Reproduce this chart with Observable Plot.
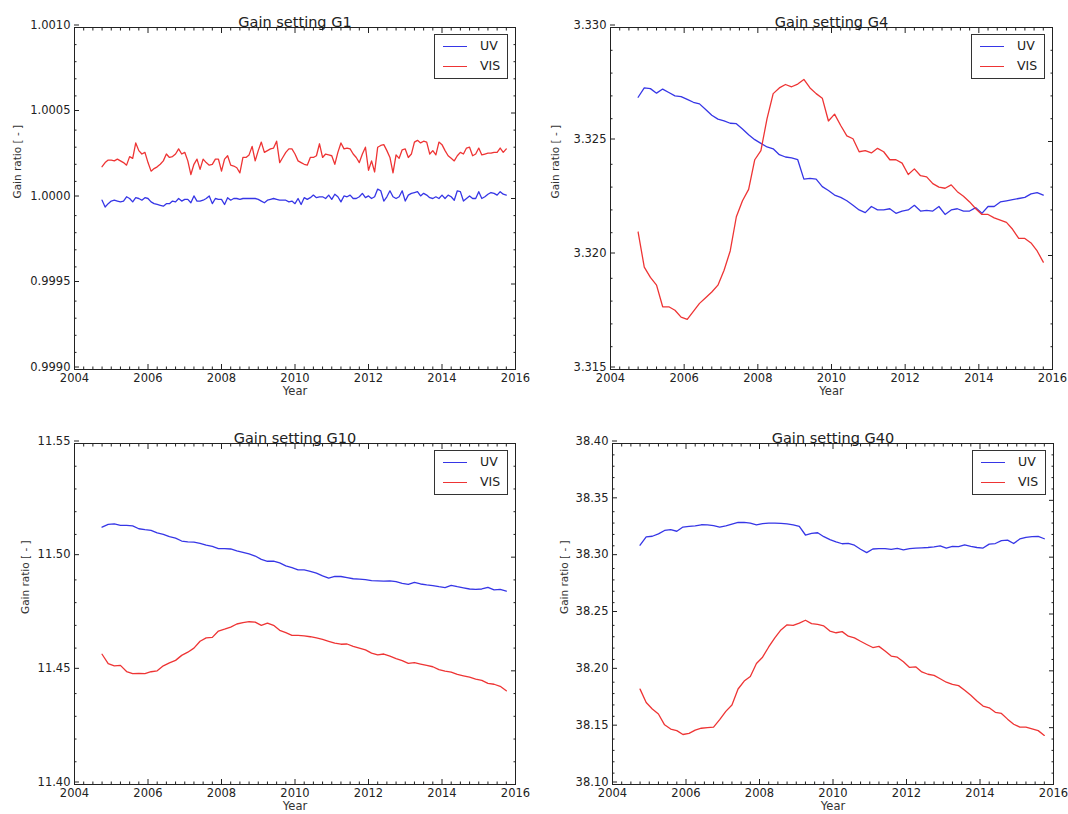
<!DOCTYPE html>
<html><head><meta charset="utf-8">
<script src="https://cdn.jsdelivr.net/npm/d3@7"></script>
<script src="https://cdn.jsdelivr.net/npm/@observablehq/plot@0.6"></script>
<style>
html,body{margin:0;padding:0;background:#fff;}
#root{position:relative;width:1068px;height:814px;overflow:hidden;font-family:"DejaVu Sans",sans-serif;color:#222;}
#root svg{position:absolute;overflow:visible;}
.legend{position:absolute;width:72px;height:43px;border:1px solid #333;background:#fff;}
.legend .sw{position:absolute;left:8px;width:24px;height:0;}
.legend .lab{position:absolute;left:45px;font-size:12.5px;line-height:16px;height:16px;color:#222;}
</style>
</head><body><div id="root"></div>
<script>
// ---------- data ----------
const seriesNames = ["UV", "VIS"];
const seriesColors = ["#3636e6", "#ee3434"];
const xTicks = [2004, 2006, 2008, 2010, 2012, 2014, 2016];
const startYear = 2004.75;      // first sample
const g1Step = 1 / 12;          // G1 sampled monthly
const step = 1 / 6;             // other panels, every two months

const g1Ticks = [0.9990, 0.9995, 1.0000, 1.0005, 1.0010];
const g4Ticks = [3.315, 3.320, 3.325, 3.330];
const g10Ticks = [11.40, 11.45, 11.50, 11.55];
const g40Ticks = [38.10, 38.15, 38.20, 38.25, 38.30, 38.35, 38.40];

const g1UV = [0.99999,0.99995,0.99997,0.999985,0.99999,0.999985,0.99998,0.999985,1.00001,1.0,
0.99998,1.000005,1.0,0.99999,1.000005,1.0,0.99998,0.99997,0.999965,0.99996,
0.999955,0.99997,0.99997,0.999985,0.99998,1.0,0.999985,0.999995,0.999995,0.999975,
1.000015,0.999985,0.999985,0.99999,1.0,1.000015,0.99997,1.0,0.999995,0.999995,
0.999965,1.000005,0.99999,1.0,1.0,0.999995,1.0,1.0,1.0,1.0,
1.0,0.999995,0.999985,0.999975,0.99999,0.999995,1.0,0.999995,0.99999,0.99999,
0.99999,0.99998,0.999985,0.99997,1.0,0.999965,1.000005,0.999995,1.000005,1.00002,
1.000005,1.00001,1.00001,1.0,1.00002,0.999995,1.000025,1.00001,0.99998,1.000015,
1.00001,1.00002,1.0,1.0,1.00001,1.00003,1.000005,1.000015,1.0,1.00001,
1.000055,1.000045,0.999985,1.00001,1.000045,1.00001,1.0,1.00001,1.000045,0.999985,
1.00002,1.00003,1.000035,1.00004,1.000015,1.00003,1.00002,1.000005,1.0,1.00001,
1.0,1.00002,1.0,1.00002,1.00001,0.99999,1.000045,1.00004,0.999985,1.0,
1.000015,1.0,1.0,1.00004,1.0,1.00001,1.000025,1.000035,1.00003,1.00002,
1.00004,1.000025,1.00002];
const g1VIS = [1.000186,1.00021,1.000225,1.000225,1.00022,1.00023,1.00022,1.00021,1.000195,1.000245,
1.000235,1.000325,1.00028,1.00026,1.00027,1.00021,1.00016,1.000175,1.000185,1.0002,
1.00022,1.00026,1.00024,1.000245,1.00026,1.00029,1.00026,1.00027,1.00022,1.00014,
1.0002,1.00023,1.00017,1.00023,1.00021,1.000195,1.0002,1.00023,1.00023,1.00016,
1.00023,1.00025,1.000195,1.00019,1.00018,1.00015,1.00024,1.00024,1.000255,1.000305,
1.00022,1.00028,1.00033,1.00027,1.00028,1.00029,1.000295,1.000335,1.00021,1.00024,
1.00027,1.00029,1.00029,1.00026,1.00022,1.00021,1.0002,1.000195,1.00024,1.00024,
1.00025,1.00032,1.00024,1.00026,1.000255,1.00025,1.0002,1.00027,1.000325,1.00029,
1.000295,1.00029,1.00026,1.00024,1.00021,1.00026,1.0003,1.000165,1.00022,1.000155,
1.0003,1.00031,1.000315,1.00028,1.00024,1.00015,1.000255,1.000235,1.000285,1.00029,
1.00024,1.00026,1.00033,1.00034,1.000325,1.000335,1.00033,1.00026,1.00028,1.000255,
1.00033,1.000315,1.00028,1.00025,1.000235,1.00022,1.00025,1.00027,1.00026,1.000295,
1.0003,1.00025,1.00026,1.000295,1.000255,1.00026,1.000265,1.000265,1.00027,1.00027,
1.000295,1.00027,1.00029];

const g4UV = [3.32694,3.32735,3.32732,3.32712,3.32730,3.32715,3.32700,3.32697,3.32685,3.32672,
3.32665,3.32640,3.32615,3.32598,3.32590,3.32580,3.32578,3.32555,3.32530,3.32508,
3.32492,3.32476,3.32468,3.32442,3.32432,3.32428,3.32420,3.32335,3.32338,3.32335,
3.32302,3.32285,3.32265,3.32255,3.32240,3.32220,3.32200,3.32188,3.32215,3.32200,
3.32200,3.32205,3.32185,3.32195,3.32200,3.32220,3.32195,3.32198,3.32195,3.32215,
3.32180,3.32200,3.32205,3.32195,3.32195,3.32210,3.32185,3.32215,3.32215,3.32235,
3.32240,3.32245,3.32250,3.32255,3.32270,3.32276,3.32265];
const g4VIS = [3.32103,3.31949,3.31904,3.31870,3.31775,3.31775,3.31760,3.31730,3.31720,3.31755,
3.31790,3.31815,3.31840,3.31870,3.31935,3.32020,3.32170,3.32240,3.32290,3.32420,
3.32460,3.32600,3.32710,3.32735,3.32750,3.32740,3.32752,3.32772,3.32735,3.32710,
3.32690,3.32590,3.32620,3.32570,3.32525,3.32512,3.32455,3.32460,3.32450,3.32470,
3.32455,3.32420,3.32420,3.32405,3.32355,3.32380,3.32350,3.32345,3.32315,3.32300,
3.32295,3.32310,3.32280,3.32260,3.32235,3.32205,3.32180,3.32180,3.32165,3.32155,
3.32145,3.32115,3.32075,3.32075,3.32055,3.32020,3.31971];

const g10UV = [11.5132,11.5144,11.5146,11.5140,11.5140,11.5138,11.5125,11.5121,11.5118,11.5107,
11.5100,11.5090,11.5084,11.5071,11.5067,11.5066,11.5061,11.5053,11.5047,11.5038,
11.5038,11.5036,11.5028,11.5021,11.5014,11.5005,11.4990,11.4982,11.4983,11.4975,
11.4962,11.4954,11.4944,11.4944,11.4938,11.4930,11.4918,11.4908,11.4915,11.4915,
11.4910,11.4905,11.4903,11.4901,11.4897,11.4896,11.4895,11.4896,11.4892,11.4885,
11.4880,11.4889,11.4882,11.4878,11.4875,11.4870,11.4866,11.4876,11.4870,11.4865,
11.4860,11.4858,11.4860,11.4867,11.4856,11.4858,11.4851];
const g10VIS = [11.4573,11.4532,11.4522,11.4524,11.4497,11.4488,11.4489,11.4488,11.4496,11.4500,
11.4522,11.4535,11.4546,11.4568,11.4582,11.4600,11.4630,11.4645,11.4647,11.4675,
11.4683,11.4692,11.4706,11.4712,11.4716,11.4714,11.4700,11.4710,11.4700,11.4678,
11.4668,11.4656,11.4656,11.4654,11.4650,11.4645,11.4638,11.4630,11.4622,11.4617,
11.4618,11.4608,11.4600,11.4592,11.4578,11.4570,11.4574,11.4565,11.4554,11.4545,
11.4533,11.4536,11.4530,11.4524,11.4518,11.4505,11.4499,11.4494,11.4484,11.4478,
11.4472,11.4464,11.4458,11.4445,11.4441,11.4432,11.4412];

const g40UV = [38.3105,38.3178,38.3184,38.3205,38.3235,38.3242,38.3228,38.3265,38.3270,38.3275,
38.3285,38.3284,38.3278,38.3265,38.3275,38.3290,38.3305,38.3306,38.3300,38.3285,
38.3295,38.3300,38.3300,38.3298,38.3292,38.3285,38.3270,38.3195,38.3210,38.3215,
38.3180,38.3155,38.3135,38.3118,38.3122,38.3105,38.3070,38.3040,38.3072,38.3075,
38.3075,38.3068,38.3078,38.3065,38.3075,38.3080,38.3082,38.3085,38.3090,38.3100,
38.3080,38.3095,38.3092,38.3108,38.3095,38.3085,38.3080,38.3115,38.3120,38.3145,
38.3150,38.3120,38.3160,38.3175,38.3180,38.3182,38.3162];
const g40VIS = [38.1839,38.1722,38.1664,38.1620,38.1525,38.1488,38.1474,38.1440,38.1450,38.1478,
38.1495,38.1500,38.1505,38.1570,38.1643,38.1700,38.1840,38.1910,38.1950,38.2065,
38.2120,38.2210,38.2290,38.2360,38.2405,38.2400,38.2420,38.2445,38.2415,38.2408,
38.2395,38.2350,38.2335,38.2345,38.2305,38.2290,38.2260,38.2232,38.2205,38.2215,
38.2175,38.2130,38.2120,38.2080,38.2030,38.2035,38.1990,38.1970,38.1960,38.1930,
38.1900,38.1880,38.1870,38.1830,38.1785,38.1735,38.1690,38.1675,38.1635,38.1625,
38.1575,38.1530,38.1505,38.1505,38.1490,38.1474,38.1432];

// ---------- layout ----------
const panels = [
  {title: "Gain setting G1", uv: g1UV, vis: g1VIS, dt: g1Step, ticks: g1Ticks, fmt: ".4f",
   left: 0, top: 0, w: 534, h: 407, ml: 74, mr: 19, mt: 27, mb: 38, ylab: -57},
  {title: "Gain setting G4", uv: g4UV, vis: g4VIS, dt: step, ticks: g4Ticks, fmt: ".3f",
   left: 534, top: 0, w: 534, h: 407, ml: 76, mr: 16, mt: 27, mb: 38, ylab: -55},
  {title: "Gain setting G10", uv: g10UV, vis: g10VIS, dt: step, ticks: g10Ticks, fmt: ".2f",
   left: 0, top: 407, w: 534, h: 407, ml: 74, mr: 19, mt: 36, mb: 30, ylab: -49},
  {title: "Gain setting G40", uv: g40UV, vis: g40VIS, dt: step, ticks: g40Ticks, fmt: ".2f",
   left: 534, top: 407, w: 534, h: 407, ml: 78, mr: 15, mt: 36, mb: 30, ylab: -48}
];

const root = document.getElementById("root");
const xMinor = d3.range(0, 49).map(k => 2004 + k * 0.25).filter((d, k) => k % 8 !== 0);

for (const p of panels) {
  const data = [];
  p.uv.forEach((v, i) => data.push({t: startYear + i * p.dt, v, s: "UV"}));
  p.vis.forEach((v, i) => data.push({t: startYear + i * p.dt, v, s: "VIS"}));
  const lo = p.ticks[0], hi = p.ticks[p.ticks.length - 1];
  const ys = p.ticks[1] - p.ticks[0];
  const nMinor = Math.round((hi - lo) / ys) * 5;
  const yMinor = d3.range(0, nMinor + 1).map(k => lo + k * ys / 5).filter((d, k) => k % 5 !== 0);
  const tickOpts = {label: null, fill: "none", stroke: "#222"};

  const svg = Plot.plot({
    width: p.w, height: p.h,
    marginLeft: p.ml, marginRight: p.mr, marginTop: p.mt, marginBottom: p.mb,
    x: {domain: [2004, 2016]},
    y: {domain: [lo, hi]},
    color: {domain: seriesNames, range: seriesColors},
    style: {fontFamily: "DejaVu Sans, sans-serif", fontSize: "11.5px", color: "#222", background: "transparent"},
    marks: [
      Plot.line(data, {x: "t", y: "v", z: "s", stroke: "s", strokeWidth: 1.3}),
      Plot.frame({stroke: "#222", strokeWidth: 1}),
      Plot.axisX({ticks: xTicks, anchor: "bottom", tickSize: -5, tickPadding: 9, tickFormat: "d", label: null, stroke: "#222", fill: "#222"}),
      Plot.axisX({ticks: xTicks, anchor: "top", tickSize: -5, ...tickOpts}),
      Plot.axisX({ticks: xMinor, anchor: "bottom", tickSize: -2.5, ...tickOpts}),
      Plot.axisX({ticks: xMinor, anchor: "top", tickSize: -2.5, ...tickOpts}),
      Plot.axisY({ticks: p.ticks, anchor: "left", tickSize: -5, tickPadding: 9, dy: -2.5, tickFormat: p.fmt, label: null, stroke: "#222", fill: "#222"}),
      Plot.axisY({ticks: p.ticks, anchor: "right", tickSize: -5, ...tickOpts}),
      Plot.axisY({ticks: yMinor, anchor: "left", tickSize: -2.5, ...tickOpts}),
      Plot.axisY({ticks: yMinor, anchor: "right", tickSize: -2.5, ...tickOpts}),
      Plot.text([p.title], {text: d => d, frameAnchor: "top", dy: -11, fontSize: 14.5, fill: "#222"}),
      Plot.text(["Year"], {text: d => d, frameAnchor: "bottom", dy: 25.5, fontSize: 11.5, fill: "#333"}),
      Plot.text(["Gain ratio [ - ]"], {text: d => d, frameAnchor: "left", dx: p.ylab, rotate: -90, fontSize: 10.5, fill: "#333"})
    ]
  });
  svg.style.left = p.left + "px";
  svg.style.top = p.top + "px";
  root.appendChild(svg);

  // legend box (top-right inside the frame)
  const frameRight = p.left + p.w - p.mr;
  const frameTop = p.top + p.mt;
  const lg = document.createElement("div");
  lg.className = "legend";
  lg.style.left = (frameRight - 7 - 74) + "px";
  lg.style.top = (frameTop + 7) + "px";
  seriesNames.forEach((name, k) => {
    const sw = document.createElement("div");
    sw.className = "sw";
    sw.style.top = (11 + 20 * k) + "px";
    sw.style.borderTop = "1.3px solid " + seriesColors[k];
    lg.appendChild(sw);
    const lab = document.createElement("div");
    lab.className = "lab";
    lab.style.top = (3 + 20 * k) + "px";
    lab.textContent = name;
    lg.appendChild(lab);
  });
  root.appendChild(lg);
}
</script>
</body></html>
